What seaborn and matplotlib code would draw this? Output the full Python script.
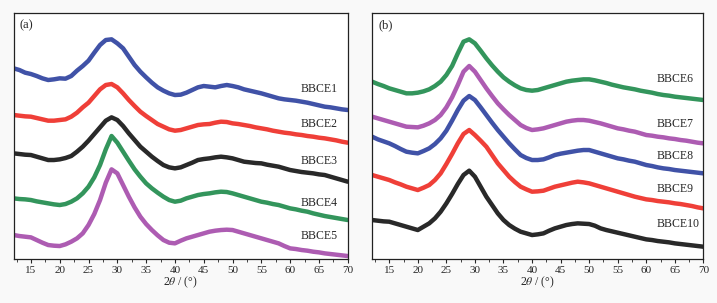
import numpy as np
import pandas as pd
import matplotlib.pyplot as plt
import seaborn as sns

# 2theta grid (deg)
two_theta = list(range(12, 71))

# intensities (a.u.), panel (a)
bbce1 = [573, 568, 560, 556, 550, 543, 538, 540, 543, 542, 550, 566, 580, 596, 620, 643, 658, 660, 648, 633,
         608, 583, 563, 546, 530, 516, 506, 498, 493, 494, 500, 508, 516, 520, 518, 516, 520, 523, 520, 516,
         510, 506, 502, 498, 493, 488, 483, 480, 478, 476, 473, 470, 466, 462, 458, 456, 453, 450, 448]
bbce2 = [433, 431, 429, 428, 424, 420, 416, 416, 418, 420, 428, 440, 456, 470, 490, 510, 523, 526, 516, 498,
         478, 460, 443, 430, 418, 406, 398, 390, 386, 388, 393, 398, 403, 405, 406, 410, 413, 412, 408, 406,
         403, 400, 396, 393, 390, 386, 383, 380, 378, 375, 373, 370, 368, 365, 363, 360, 357, 353, 350]
bbce3 = [318, 316, 314, 313, 308, 303, 298, 298, 300, 304, 310, 323, 338, 356, 376, 396, 416, 426, 418, 400,
         378, 358, 338, 323, 308, 295, 283, 276, 273, 276, 283, 290, 298, 301, 303, 306, 308, 306, 303, 298,
         293, 291, 289, 288, 284, 281, 278, 273, 268, 265, 262, 260, 258, 255, 253, 248, 243, 238, 233]
bbce4 = [183, 181, 180, 178, 174, 171, 168, 165, 163, 166, 173, 183, 198, 218, 246, 283, 330, 370, 350, 323,
         296, 270, 248, 228, 213, 200, 188, 178, 173, 176, 183, 188, 193, 196, 198, 201, 203, 202, 198, 193,
         188, 183, 178, 173, 170, 166, 163, 158, 153, 150, 146, 143, 138, 134, 130, 127, 124, 121, 118]
bbce5 = [73, 70, 68, 66, 58, 50, 43, 41, 40, 45, 53, 63, 78, 103, 136, 178, 230, 270, 258, 223,
         188, 156, 128, 106, 88, 72, 58, 50, 48, 56, 63, 68, 73, 78, 83, 86, 88, 89, 88, 83,
         78, 73, 68, 63, 58, 53, 48, 40, 33, 31, 28, 26, 23, 21, 18, 16, 14, 12, 10]

# panel (b)
bbce6 = [533, 526, 520, 513, 508, 503, 498, 498, 500, 504, 510, 520, 533, 553, 580, 618, 653, 660, 648, 626,
         603, 582, 563, 546, 533, 522, 513, 508, 506, 508, 513, 518, 523, 528, 533, 536, 538, 540, 540, 537,
         533, 529, 524, 520, 516, 513, 510, 506, 503, 500, 496, 493, 491, 488, 486, 484, 482, 480, 478]
bbce7 = [428, 423, 418, 413, 408, 403, 398, 397, 396, 401, 408, 418, 433, 456, 486, 523, 563, 580, 563, 538,
         513, 490, 468, 450, 433, 418, 403, 394, 388, 390, 393, 398, 403, 408, 413, 416, 418, 418, 416, 412,
         408, 403, 398, 393, 390, 386, 383, 378, 373, 371, 368, 366, 363, 361, 358, 356, 353, 350, 348]
bbce8 = [368, 360, 354, 348, 340, 331, 323, 320, 318, 325, 333, 346, 363, 386, 416, 448, 476, 490, 478, 456,
         433, 410, 388, 368, 348, 330, 313, 304, 298, 298, 300, 306, 313, 317, 320, 323, 326, 328, 328, 323,
         318, 313, 308, 303, 300, 296, 293, 288, 283, 280, 276, 273, 271, 268, 266, 264, 262, 260, 258]
bbce9 = [253, 248, 243, 238, 231, 225, 218, 213, 208, 215, 223, 238, 258, 286, 316, 348, 376, 388, 373, 356,
         338, 313, 288, 268, 248, 232, 218, 210, 203, 204, 206, 212, 218, 222, 226, 230, 233, 231, 228, 223,
         218, 213, 208, 203, 198, 193, 188, 184, 180, 178, 175, 173, 171, 168, 166, 163, 160, 156, 153]
bbce10 = [118, 116, 114, 113, 108, 103, 98, 93, 88, 98, 108, 123, 143, 168, 196, 226, 253, 266, 248, 218,
          188, 163, 138, 118, 103, 92, 83, 78, 73, 75, 78, 86, 93, 98, 103, 106, 108, 107, 106, 101,
          93, 88, 84, 80, 76, 72, 68, 64, 60, 58, 55, 53, 51, 48, 46, 44, 42, 40, 38]

names_a = ["BBCE1", "BBCE2", "BBCE3", "BBCE4", "BBCE5"]
names_b = ["BBCE6", "BBCE7", "BBCE8", "BBCE9", "BBCE10"]
series_a = [bbce1, bbce2, bbce3, bbce4, bbce5]
series_b = [bbce6, bbce7, bbce8, bbce9, bbce10]
colors_a = ["#2b3f9e", "#ee2a22", "#111111", "#1d8a4a", "#a44aaa"]
colors_b = ["#1d8a4a", "#a44aaa", "#2b3f9e", "#ee2a22", "#111111"]
# label heights (a.u.)
label_y_a = [510, 406, 296, 170, 70]
label_y_b = [540, 406, 310, 210, 106]


def long_df(names, series):
    rows = []
    for n, s in zip(names, series):
        for x, y in zip(two_theta, s):
            rows.append((n, x, y))
    return pd.DataFrame(rows, columns=["sample", "two_theta", "intensity"])


sns.set_theme(style="ticks")
plt.rcParams["font.family"] = ["Liberation Serif", "DejaVu Serif"]
plt.rcParams["mathtext.fontset"] = "stix"

fig = plt.figure(figsize=(7.17, 3.03), dpi=100, facecolor="#f9f9f9")
ax_a = fig.add_axes([0.019, 0.144, 0.466, 0.812])
ax_b = fig.add_axes([0.519, 0.144, 0.462, 0.812])

panels = [(ax_a, names_a, series_a, colors_a, label_y_a, "(a)"),
          (ax_b, names_b, series_b, colors_b, label_y_b, "(b)")]

for ax, names, series, colors, label_y, tag in panels:
    df = long_df(names, series)
    sns.lineplot(data=df, x="two_theta", y="intensity", hue="sample",
                 hue_order=names, palette=colors, linewidth=3.2, alpha=0.9,
                 legend=False, ax=ax)
    for n, ly in zip(names, label_y):
        ax.text(61.8, ly, n, fontsize=8.5, va="center", ha="left")
    ax.text(13.1, 703, tag, fontsize=9, va="center", ha="left")
    ax.set_xlim(12, 70)
    ax.set_ylim(0, 738)
    ax.set_xticks(range(15, 71, 5))
    ax.set_xticks(np.arange(12.5, 70, 2.5), minor=True)
    ax.set_yticks([])
    ax.tick_params(axis="x", which="major", labelsize=8, length=3, width=0.8, pad=1.5)
    ax.tick_params(axis="x", which="minor", length=2, width=0.6)
    ax.set_xlabel(r"2$\theta$ / (°)", fontsize=8.5, labelpad=0)
    ax.set_ylabel("")
    for sp in ax.spines.values():
        sp.set_linewidth(0.9)
        sp.set_color("#222222")

fig.savefig("out.png", dpi=100, facecolor=fig.get_facecolor())
